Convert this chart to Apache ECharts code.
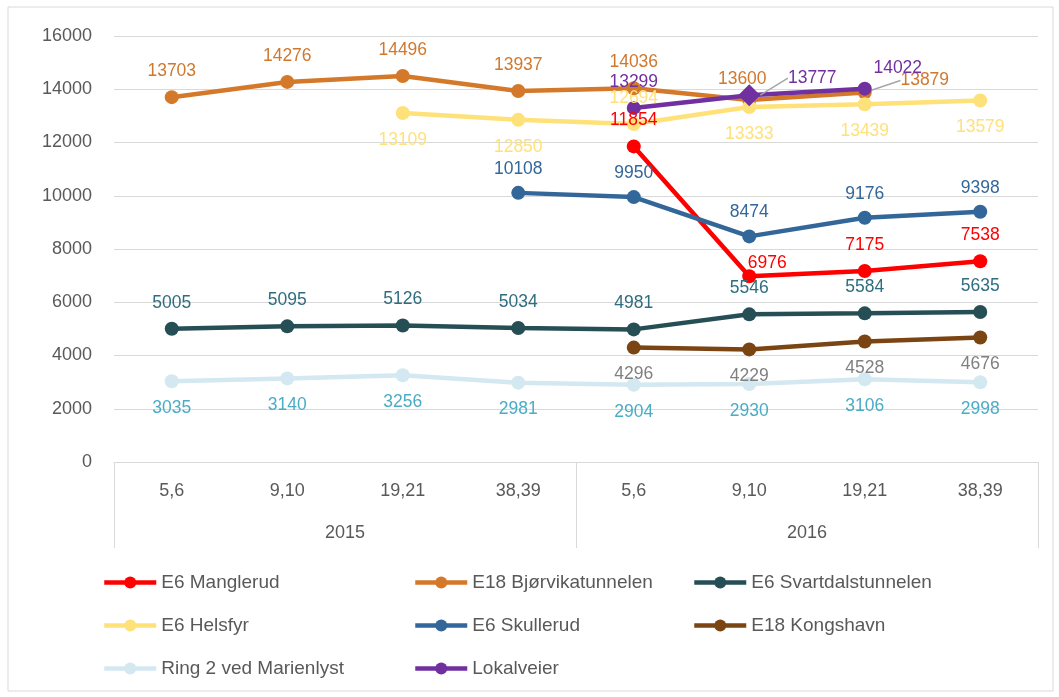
<!DOCTYPE html>
<html>
<head>
<meta charset="utf-8">
<script src="https://cdn.jsdelivr.net/npm/echarts@6/dist/echarts.min.js"></script>
<style>
  html, body { margin: 0; padding: 0; background: #fff; }
  #main { width: 1059px; height: 697px; }
</style>
</head>
<body>
<div id="main"></div>
<script>
var weeks = ['5,6', '9,10', '19,21', '38,39', '5,6', '9,10', '19,21', '38,39'];
var years = ['2015', '2016'];

var manglerud  = [null, null, null, null, 11854, 6976, 7175, 7538];
var bjorvika   = [13703, 14276, 14496, 13937, 14036, 13600, 13879, null];
var svartdal   = [5005, 5095, 5126, 5034, 4981, 5546, 5584, 5635];
var helsfyr    = [null, null, 13109, 12850, 12694, 13333, 13439, 13579];
var skullerud  = [null, null, null, 10108, 9950, 8474, 9176, 9398];
var kongshavn  = [null, null, null, null, 4296, 4229, 4528, 4676];
var ring2      = [3035, 3140, 3256, 2981, 2904, 2930, 3106, 2998];
var lokalveier = [null, null, null, null, 13299, 13777, 14022, null];

var FONT = "'Liberation Sans', Arial, sans-serif";
var LEADER = { show: true, lineStyle: { color: '#A6A6A6', width: 1.5 } };

// builds one line series; moves = per point label shift {i: [dx, dy]}
function line(name, values, color, labelColor, pos, dist, extra, moves) {
  var s = {
    name: name,
    type: 'line',
    data: values.map(function (v, i) {
      if (extra && extra[i]) return Object.assign({ value: v }, extra[i]);
      return v;
    }),
    color: color,
    lineStyle: { width: 4.5, color: color },
    itemStyle: { color: color },
    symbol: 'circle',
    symbolSize: 14,
    labelLine: { show: false },
    label: {
      show: true, position: pos, distance: dist,
      color: labelColor, fontSize: 17.5, fontWeight: 'normal', fontFamily: FONT
    }
  };
  if (moves) {
    s.labelLayout = function (p) {
      var m = moves[p.dataIndex];
      if (m) return { dx: m[0], dy: m[1] };
      return {};
    };
  }
  return s;
}

var chart = echarts.init(document.getElementById('main'));

var legendBase = {
  orient: 'vertical', top: 568, itemGap: 24,
  itemWidth: 52, itemHeight: 15,
  lineStyle: { width: 4.5 },
  textStyle: { fontSize: 19, color: '#595959' }
};

var option = {
  textStyle: { fontFamily: FONT },
  animation: false,
  graphic: [{
    type: 'rect',
    shape: { x: 8, y: 7, width: 1045, height: 684 },
    style: { fill: 'none', stroke: '#D9D9D9', lineWidth: 1 },
    silent: true
  }],
  grid: { left: 114, right: 21, top: 36, bottom: 235 },
  legend: [
    Object.assign({ data: ['E6 Manglerud', 'E6 Helsfyr', 'Ring 2 ved Marienlyst'], left: 97 }, legendBase),
    Object.assign({ data: ['E18 Bjørvikatunnelen', 'E6 Skullerud', 'Lokalveier'], left: 408 }, legendBase),
    Object.assign({ data: ['E6 Svartdalstunnelen', 'E18 Kongshavn'], left: 687 }, legendBase)
  ],
  xAxis: [
    {
      type: 'category',
      data: weeks,
      position: 'bottom',
      boundaryGap: true,
      axisLine: { lineStyle: { color: '#D9D9D9', width: 1 } },
      axisTick: { show: false },
      axisLabel: { fontSize: 18, color: '#595959', margin: 20, interval: 0 }
    },
    {
      type: 'category',
      data: years,
      position: 'bottom',
      boundaryGap: true,
      axisLine: { show: false },
      axisTick: { show: true, length: 86, lineStyle: { color: '#D9D9D9', width: 1 } },
      axisLabel: { fontSize: 18, color: '#595959', margin: 62 }
    }
  ],
  yAxis: {
    type: 'value',
    min: 0, max: 16000, interval: 2000,
    axisLine: { show: false },
    axisTick: { show: false },
    splitLine: { lineStyle: { color: '#D9D9D9', width: 1 } },
    axisLabel: {
      fontSize: 18, color: '#595959', margin: 22,
      formatter: function (v) { return String(v); }
    }
  },
  series: [
    line('E6 Manglerud', manglerud, '#FF0000', '#FF0000', 'top', 10, null, { 5: [18, 13] }),
    line('E18 Bjørvikatunnelen', bjorvika, '#D4782A', '#D0782E', 'top', 10,
      { 6: { labelLine: LEADER } }, { 5: [-7, 5], 6: [60, 14] }),
    line('E6 Svartdalstunnelen', svartdal, '#264E55', '#2F6E80', 'top', 10),
    line('E6 Helsfyr', helsfyr, '#FFE17A', '#FFE17A', 'bottom', 11,
      { 4: { label: { position: 'top', distance: 10 } } }),
    line('E6 Skullerud', skullerud, '#336699', '#336699', 'top', 8),
    line('E18 Kongshavn', kongshavn, '#7B4513', '#808080', 'bottom', 11),
    line('Ring 2 ved Marienlyst', ring2, '#D3E8F0', '#4BACC6', 'bottom', 11),
    line('Lokalveier', lokalveier, '#7030A0', '#7030A0', 'top', 10,
      { 5: { symbol: 'diamond', symbolSize: 22, labelLine: LEADER } }, { 5: [63, 13], 6: [33, 6] })
  ]
};

chart.setOption(option);
</script>
</body>
</html>
